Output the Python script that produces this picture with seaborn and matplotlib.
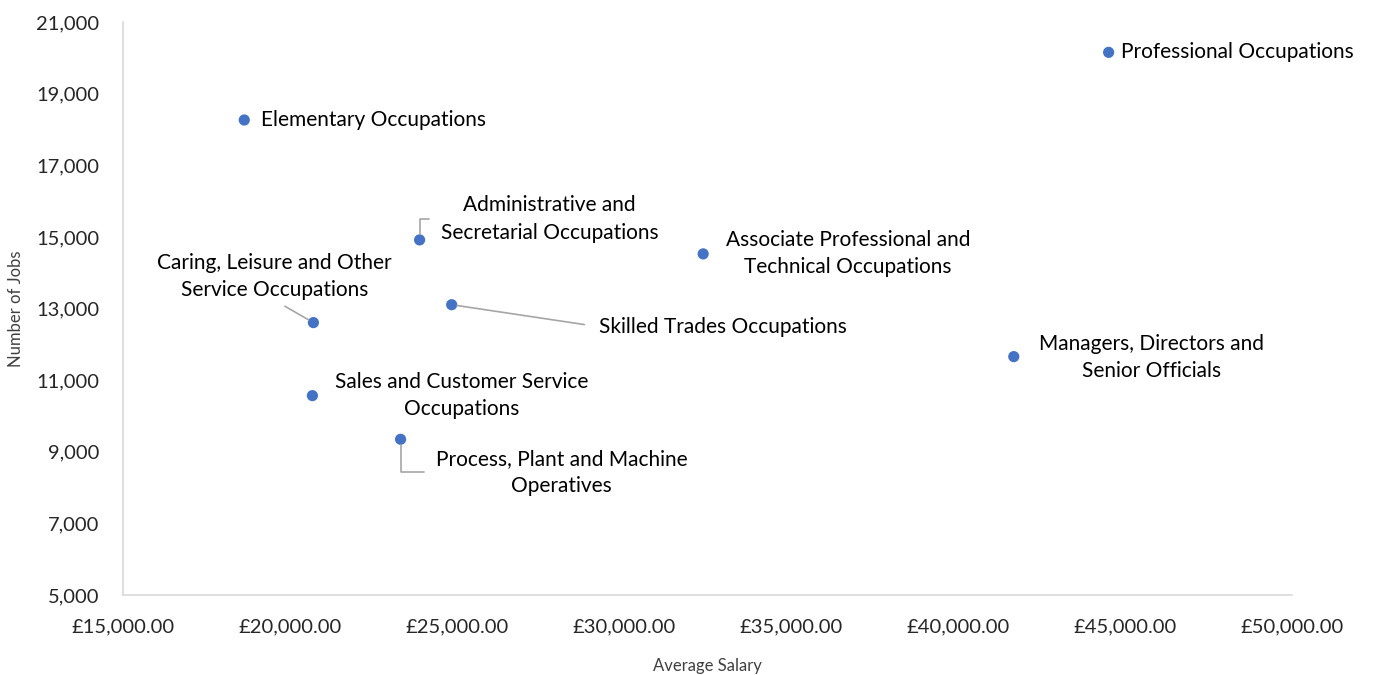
import pandas as pd
import numpy as np
import seaborn as sns
import matplotlib.pyplot as plt
from matplotlib.ticker import FuncFormatter


occupations = [
    'Professional Occupations',
    'Elementary Occupations',
    'Administrative and\nSecretarial Occupations',
    'Associate Professional and\nTechnical Occupations',
    'Caring, Leisure and Other\nService Occupations',
    'Skilled Trades Occupations',
    'Managers, Directors and\nSenior Officials',
    'Sales and Customer Service\nOccupations',
    'Process, Plant and Machine\nOperatives',
]
avg_salary = [44510, 18630, 23880, 32370, 20700, 24840, 41670, 20670, 23310]
num_jobs = [20160, 18270, 14920, 14530, 12610, 13110, 11660, 10570, 9350]

x_ticks = [15000, 20000, 25000, 30000, 35000, 40000, 45000, 50000]
y_ticks = [5000, 7000, 9000, 11000, 13000, 15000, 17000, 19000, 21000]

# label placement: (dx px, dy px, ha, leader)
label_style = [
    (12, 0, 'left', None),
    (17, 0, 'left', None),
    (130, 21, 'center', 'elbow'),
    (145, 0, 'center', None),
    (-39, 46, 'center', 'below'),
    (147, -22, 'left', 'straight'),
    (138, -1, 'center', None),
    (149, 0, 'center', None),
    (161, -33, 'center', 'elbow'),
]

df = pd.DataFrame({'occupation': occupations, 'salary': avg_salary, 'jobs': num_jobs})

sns.set_style('white')
plt.rcParams['font.family'] = ['Lato', 'DejaVu Sans']

fig = plt.figure(figsize=(13.87, 6.75), dpi=100)
ax = fig.add_axes([0.0887, 0.1185, 0.8428, 0.8485])

sns.scatterplot(data=df, x='salary', y='jobs', color='#4472C4', s=65,
                edgecolor='none', ax=ax, zorder=3)

leader = '#A6A6A6'
for (name, x, y), (dx, dy, ha, kind) in zip(df[['occupation', 'salary', 'jobs']].values, label_style):
    kw = dict(xy=(x, y), xytext=(dx, dy), textcoords='offset pixels',
              ha=ha, va='center', multialignment='center', linespacing=1.45,
              fontsize=15, color='#000000', zorder=4)
    if kind == 'elbow':
        kw['arrowprops'] = dict(arrowstyle='-', color=leader, lw=1.2,
                                connectionstyle='angle,angleA=0,angleB=90,rad=0',
                                relpos=(0, 0.5), shrinkA=6, shrinkB=4)
    elif kind == 'below':
        kw['arrowprops'] = dict(arrowstyle='-', color=leader, lw=1.2,
                                relpos=(0.5, 0), shrinkA=4, shrinkB=4)
    elif kind == 'straight':
        kw['arrowprops'] = dict(arrowstyle='-', color=leader, lw=1.2,
                                relpos=(0, 0.5), shrinkA=8, shrinkB=4)
    ax.annotate(name, **kw)

ax.set_xlim(15000, 50000)
ax.set_ylim(5000, 21000)
ax.set_xticks(x_ticks)
ax.set_yticks(y_ticks)
ax.xaxis.set_major_formatter(FuncFormatter(lambda v, p: f'£{v:,.2f}'))
ax.yaxis.set_major_formatter(FuncFormatter(lambda v, p: f'{v:,.0f}'))
ax.tick_params(axis='both', length=0, labelsize=14.5, labelcolor='#262626', pad=17)

ax.set_xlabel('Average Salary', fontsize=12, color='#404040', labelpad=16)
ax.set_ylabel('Number of Jobs', fontsize=12, color='#404040', labelpad=9)

sns.despine(ax=ax, top=True, right=True)
for side in ['left', 'bottom']:
    ax.spines[side].set_color('#D9D9D9')
    ax.spines[side].set_linewidth(1.2)

fig.savefig('out.png', dpi=100)
